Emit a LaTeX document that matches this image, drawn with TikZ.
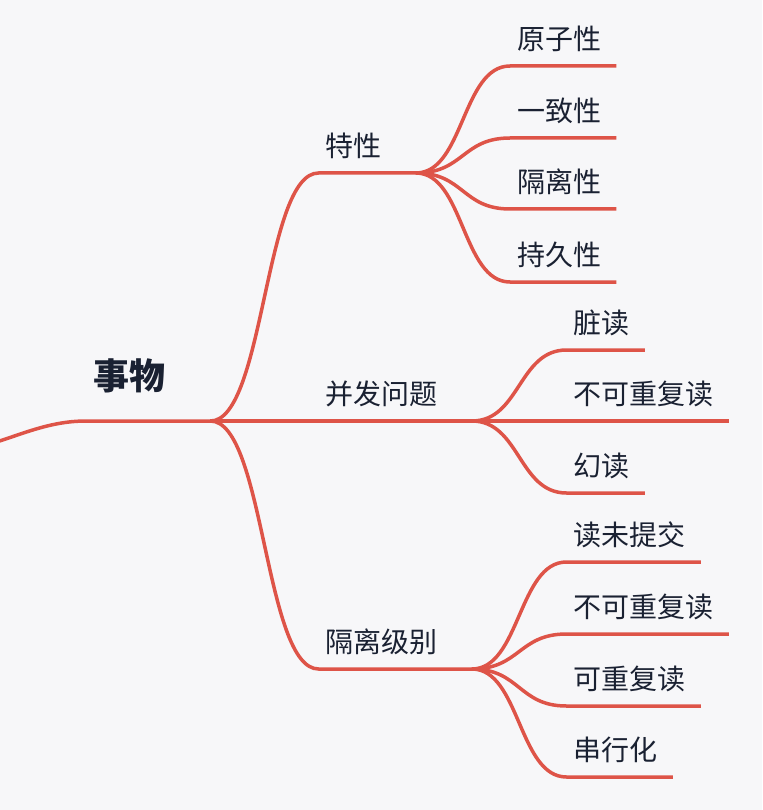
\documentclass[tikz,border=0pt]{standalone}
\usepackage{fontspec}
\setmainfont{Noto Sans CJK SC}
\usetikzlibrary{calc}
\definecolor{bg}{RGB}{247,247,249}
\definecolor{branch}{RGB}{222,84,72}
\definecolor{ink}{RGB}{26,33,50}
\newcommand{\topicfont}{\fontsize{28}{30}\selectfont}
\newcommand{\rootfont}{\fontsize{36}{40}\selectfont\bfseries}
\tikzset{
  topic/.style={anchor=south west, inner xsep=7pt, inner ysep=0pt, text depth=16.4pt, text=ink, font=\topicfont},
  root/.style={topic, text depth=31.3pt, font=\rootfont},
  edge/.style={draw=branch, line width=3.5pt},
  link/.style={to path={.. controls +(#1,0) and +(-#1,0) .. (\tikztotarget)}},
  link/.default=48
}

\begin{document}
\begin{tikzpicture}[x=1pt, y=-1pt]
\useasboundingbox (0,0) rectangle (762,810);
\fill[bg] (0,0) rectangle (762,810);
\clip (0,0) rectangle (762,810);

\node[root] (root) at (86,421) {事物};
\coordinate (in) at (-60,452);
\coordinate (root-j) at ([xshift=38pt]root.south east);

\node[topic] (tx) at (318.5,173) {特性};
\node[topic] (bf) at (318.5,421) {并发问题};
\node[topic] (gl) at (318.5,669) {隔离级别};
\coordinate (tx-j) at ([xshift=27pt]tx.south east);
\coordinate (bf-j) at ([xshift=27pt]bf.south east);
\coordinate (gl-j) at ([xshift=27pt]gl.south east);

\node[topic] (tx1) at (510,66) {原子性};
\node[topic] (tx2) at (510,138) {一致性};
\node[topic] (tx3) at (510,209) {隔离性};
\node[topic] (tx4) at (510,282) {持久性};

\node[topic] (bf1) at (566.5,350) {脏读};
\node[topic] (bf2) at (566.5,421) {不可重复读};
\node[topic] (bf3) at (566.5,493) {幻读};

\node[topic] (gl1) at (566.5,562) {读未提交};
\node[topic] (gl2) at (566.5,634) {不可重复读};
\node[topic] (gl3) at (566.5,706) {可重复读};
\node[topic] (gl4) at (566.5,777) {串行化};

\draw[edge] (in) to[link=55] (root.south west) -- (root-j);
\foreach \c in {tx,bf,gl}
  \draw[edge] (root-j) to[link=54] (\c.south west) -- (\c-j);
\foreach \c in {tx1,tx2,tx3,tx4}
  \draw[edge] (tx-j) to[link] (\c.south west) -- ([xshift=8pt]\c.south east);
\foreach \c in {bf1,bf2,bf3}
  \draw[edge] (bf-j) to[link] (\c.south west) -- ([xshift=8pt]\c.south east);
\foreach \c in {gl1,gl2,gl3,gl4}
  \draw[edge] (gl-j) to[link] (\c.south west) -- ([xshift=8pt]\c.south east);
\end{tikzpicture}
\end{document}
